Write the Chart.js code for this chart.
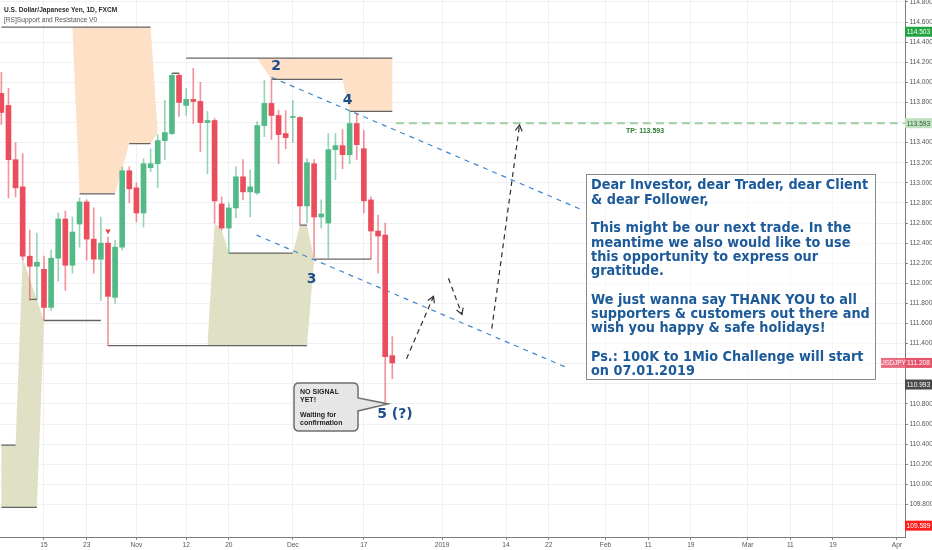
<!DOCTYPE html>
<html>
<head>
<meta charset="utf-8">
<script src="https://cdn.jsdelivr.net/npm/chart.js@4.4.1/dist/chart.umd.min.js"></script>
<style>
  html, body { margin: 0; padding: 0; background: #ffffff; }
  #wrap { width: 932px; height: 550px; position: relative; }
</style>
</head>
<body>
<div id="wrap"><canvas id="chart" width="932" height="550"></canvas></div>
<script>
// USD/JPY daily candles (FXCM). Bar index counts trading days, 0 = 15 Oct 2018.
const firstBar = -6;
const opens  = [113.89,113.77,113.23,112.96,112.27,112.17,112.14,111.76,112.25,112.64,112.18,112.59,112.81,112.44,112.24,112.40,111.86,112.36,113.12,112.95,112.70,113.15,113.19,113.42,113.49,114.07,113.77,113.83,113.81,113.60,113.62,112.79,112.55,112.75,113.06,112.91,112.90,113.57,113.79,113.67,113.49,113.65,113.65,112.77,113.19,112.66,112.60,113.33,113.37,113.28,113.59,113.34,112.83,112.52,112.48,111.28];
const highs  = [114.10,113.94,113.40,113.29,112.53,112.50,112.27,112.33,112.70,112.72,112.66,112.85,112.83,112.75,112.66,112.46,112.43,113.16,113.16,113.00,113.24,113.34,113.48,113.82,114.09,114.09,113.94,114.14,114.00,113.71,113.64,112.86,112.80,113.16,113.23,113.13,113.61,114.02,114.03,113.72,113.72,113.82,113.66,113.24,113.23,112.83,113.49,113.49,113.53,113.71,113.69,113.52,112.86,112.68,112.60,111.47];
const lows   = [113.58,112.85,112.86,112.23,111.83,111.83,111.63,111.73,112.02,111.93,112.10,112.36,112.23,112.10,111.83,111.38,111.80,112.33,112.80,112.61,112.56,113.11,112.95,113.23,113.48,113.66,113.67,113.59,113.31,113.09,112.60,112.53,112.30,112.65,112.83,112.66,112.88,113.46,113.43,113.19,113.34,113.40,112.58,112.60,112.26,112.55,112.25,113.03,113.14,113.19,113.23,112.70,112.24,112.10,110.82,111.05];
const closes = [113.70,113.23,112.95,112.27,112.17,112.21,111.76,112.25,112.64,112.18,112.51,112.81,112.44,112.24,112.40,111.87,112.36,113.12,112.94,112.70,113.19,113.19,113.42,113.50,114.07,113.80,113.83,113.81,113.60,113.62,112.82,112.55,112.75,113.06,112.91,112.96,113.57,113.79,113.67,113.48,113.45,113.66,112.77,113.20,112.66,112.69,113.33,113.37,113.28,113.59,113.38,112.82,112.52,112.47,111.27,111.208];

// Time axis: bar index of each labelled date and its text
const timeTickBars   = [0, 6, 13, 20, 26, 35, 45, 56, 65, 71, 79, 85, 91, 99, 105, 111, 120];
const timeTickLabels = ['15','23','Nov','12','20','Dec','17','2019','14','22','Feb','11','19','Mar','11','19','Apr'];

// Price axis ticks
const priceTicks = [109.8,110.0,110.2,110.4,110.6,110.8,111.0,111.2,111.4,111.6,111.8,112.0,112.2,112.4,112.6,112.8,113.0,113.2,113.4,113.6,113.8,114.0,114.2,114.4,114.6,114.8];

// [RS] Support and Resistance: level segments as [fromBar, toBar, price]
const resistanceLevels = [[-6,15,114.55],[5,10,112.89],[12,15,113.39],[18,19,114.09],[20,49,114.24],[32,42,114.03],[43,49,113.71]];
const supportLevels    = [[-6,-1,109.77],[-6,-4,110.39],[-2,-1,111.84],[0,8,111.63],[9,37,111.38],[26,35,112.30],[36,37,112.58],[38,46,112.24]];

// Shaded zones of the indicator: upper edge and lower edge as [bar, price]
const resistZoneA_top  = [[4,114.55],[15,114.55],[16,113.50]];
const resistZoneA_base = [[4,114.55],[5,112.89],[10,112.89],[12,113.39],[15,113.39],[16,113.50]];
const resistZoneB_top  = [[30,114.24],[49,114.24]];
const resistZoneB_base = [[30,114.24],[32,114.03],[42,114.03],[43,113.71],[49,113.71]];
const supportZoneA_top  = [[-6,110.39],[-4,110.39],[-3,112.25],[0,111.63]];
const supportZoneA_base = [[-6,109.77],[-1,109.77],[0,111.63]];
const supportZoneB_top  = [[23,111.38],[24,112.60],[25,112.53],[26,112.30],[35,112.30],[36,112.58],[37,112.58],[38,112.24]];
const supportZoneB_base = [[23,111.38],[37,111.38]];

// Drawn trend channel (blue dashed) and projected path (black dashed arrows)
const trendUpper = [[32.0,114.05],[75.4,112.74]];
const trendLower = [[29.9,112.48],[73.6,111.16]];
const projLeg1 = [[51.0,111.25],[54.8,111.87]];
const projLeg2 = [[56.9,112.05],[58.8,111.69]];
const projLeg3 = [[63.0,111.55],[66.9,113.575]];

// Take-profit level
const tpLevel = 113.593;
const tpFromBar = 49.5;

// Signal marker above bar 9
const signalMarker = [9, 112.52];

// Wave count labels: [text, bar, baseline price]
const waveLabels = [['2',32.64,114.122],['4',42.7,113.784],['3',37.66,112.008],['5 (?)',49.38,110.66]];

// Callout pointing at the latest low
const calloutTip = [48.4, 110.80];
const calloutLines = ['NO SIGNAL','YET!','','Waiting for','confirmation'];

const noteLines = [
  'Dear Investor, dear Trader, dear Client',
  '& dear Follower,',
  '',
  'This might be our next trade. In the',
  'meantime we also would like to use',
  'this opportunity to express our',
  'gratitude.',
  '',
  'We just wanna say THANK YOU to all',
  'supporters & customers out there and',
  'wish you happy & safe holidays!',
  '',
  'Ps.: 100K to 1Mio Challenge will start',
  'on 07.01.2019'
];

// Price-scale tags: [price, background, text colour]
const axisTags = [[114.503,'#23a443','#ffffff'],[113.593,'#bfe0bf','#2f5e2f'],[111.208,'#e5536b','#ffffff'],[110.993,'#4a4a4a','#ffffff'],[109.589,'#ff1f1f','#ffffff']];
const symbolTag = ['USDJPY', 111.208];

// ---------- build library tables ----------
const UP = '#53b987', DOWN = '#eb4d5c';
const bodies = [], wicks = [], bodyColors = [], wickColors = [];
opens.forEach((o, k) => {
  const bar = firstBar + k, c = closes[k];
  bodies.push({x: bar, y: [o, c]});
  wicks.push({x: bar, y: [lows[k], highs[k]]});
  const up = c >= o;
  bodyColors.push(up ? UP : DOWN);
  wickColors.push(up ? 'rgba(83,185,135,0.6)' : 'rgba(235,77,92,0.6)');
});

function levelPoints(levels) {
  const pts = [];
  levels.forEach(([a, b, p]) => {
    pts.push({x: a, y: p}, {x: b, y: p}, {x: b, y: null});
  });
  return pts;
}
function zonePolygon(top, base) {
  return top.map(([x, y]) => ({x, y})).concat(base.slice().reverse().map(([x, y]) => ({x, y})));
}
function pairPoints(arr) { return arr.map(([x, y]) => ({x, y})); }

function zone(top, base, color) {
  return {type: 'line', data: zonePolygon(top, base), fill: 'shape', backgroundColor: color,
          borderWidth: 0, pointRadius: 0, order: 20, tension: 0};
}
function dashed(arr, color, width, dash) {
  return {type: 'line', data: pairPoints(arr), borderColor: color, borderWidth: width,
          borderDash: dash, pointRadius: 0, fill: false, order: 4, tension: 0};
}

const ORANGE = '#fde0c6', KHAKI = '#dfe0c4';

const datasets = [
  {type: 'bar', data: bodies, backgroundColor: bodyColors, barThickness: 5, grouped: false, minBarLength: 1, order: 0},
  {type: 'bar', data: wicks, backgroundColor: wickColors, barThickness: 1, grouped: false, order: 1},
  {type: 'line', data: [{x: signalMarker[0], y: signalMarker[1]}], showLine: false, pointStyle: 'triangle',
   rotation: 180, pointRadius: 3.2, pointBackgroundColor: '#e5483f', pointBorderWidth: 0, order: 0},
  {type: 'line', data: levelPoints(resistanceLevels), borderColor: 'rgba(85,85,85,0.9)', borderWidth: 1.3,
   pointRadius: 0, spanGaps: false, fill: false, order: 3, tension: 0},
  {type: 'line', data: levelPoints(supportLevels), borderColor: 'rgba(85,85,85,0.9)', borderWidth: 1.3,
   pointRadius: 0, spanGaps: false, fill: false, order: 3, tension: 0},
  dashed(trendUpper, '#3f86cf', 1.2, [5, 5]),
  dashed(trendLower, '#3f86cf', 1.2, [5, 5]),
  dashed(projLeg1, '#2e2e2e', 1.2, [5, 4]),
  dashed(projLeg2, '#2e2e2e', 1.2, [5, 4]),
  dashed(projLeg3, '#2e2e2e', 1.2, [5, 4]),
  {type: 'line', data: [{x: tpFromBar, y: tpLevel}, {x: 125, y: tpLevel}], borderColor: '#9fd09f',
   borderWidth: 2, borderDash: [8, 5], pointRadius: 0, fill: false, order: 4},
  zone(resistZoneA_top, resistZoneA_base, ORANGE),
  zone(resistZoneB_top, resistZoneB_base, ORANGE),
  zone(supportZoneA_top, supportZoneA_base, KHAKI),
  zone(supportZoneB_top, supportZoneB_base, KHAKI)
];

// ---------- annotations drawn through the scales ----------
const annotations = {
  id: 'annotations',
  afterDatasetsDraw(chart) {
    const {ctx, scales: {x, y}} = chart;
    const px = v => x.getPixelForValue(v), py = v => y.getPixelForValue(v);
    // arrow heads on the projected path
    ctx.save();
    ctx.strokeStyle = '#2e2e2e'; ctx.lineWidth = 1.2;
    [projLeg1, projLeg2, projLeg3].forEach(leg => {
      const [a, b] = leg;
      const x0 = px(a[0]), y0 = py(a[1]), x1 = px(b[0]), y1 = py(b[1]);
      const len = Math.hypot(x1 - x0, y1 - y0), ux = (x1 - x0) / len, uy = (y1 - y0) / len;
      const nx = -uy, ny = ux;
      ctx.beginPath();
      ctx.moveTo(x1 - 6 * ux + 3.5 * nx, y1 - 6 * uy + 3.5 * ny);
      ctx.lineTo(x1, y1);
      ctx.lineTo(x1 - 6 * ux - 3.5 * nx, y1 - 6 * uy - 3.5 * ny);
      ctx.stroke();
    });
    ctx.restore();
  },
  afterDraw(chart) {
    const {ctx, scales: {x, y}, chartArea} = chart;
    const px = v => x.getPixelForValue(v), py = v => y.getPixelForValue(v);
    ctx.save();

    // legend header
    ctx.textBaseline = 'alphabetic'; ctx.textAlign = 'left';
    ctx.fillStyle = '#2a2a2a';
    ctx.font = 'bold 6.6px "Liberation Sans", Arial, sans-serif';
    ctx.fillText('U.S. Dollar/Japanese Yen, 1D, FXCM', 4, 12);
    ctx.fillStyle = '#555555';
    ctx.font = '6.6px "Liberation Sans", Arial, sans-serif';
    ctx.fillText('[RS]Support and Resistance V0', 4, 22);

    // wave count labels
    ctx.fillStyle = '#1d4f8c';
    ctx.font = 'bold 14px "DejaVu Sans", sans-serif';
    ctx.textAlign = 'center';
    waveLabels.forEach(([t, b, p]) => ctx.fillText(t, px(b), py(p)));

    // take-profit caption
    ctx.fillStyle = '#2d7d32';
    ctx.font = 'bold 7px "Liberation Sans", Arial, sans-serif';
    ctx.fillText('TP: ' + tpLevel.toFixed(3), px(84.55), py(tpLevel) + 10);

    // callout
    const tx = px(calloutTip[0]), ty = py(calloutTip[1]);
    const L = tx - 94, R = tx - 30, T = ty - 21, B = ty + 27, r = 5;
    ctx.beginPath();
    ctx.moveTo(L + r, T);
    ctx.lineTo(R - r, T); ctx.quadraticCurveTo(R, T, R, T + r);
    ctx.lineTo(R, ty - 6); ctx.lineTo(tx, ty); ctx.lineTo(R, ty + 7);
    ctx.lineTo(R, B - r); ctx.quadraticCurveTo(R, B, R - r, B);
    ctx.lineTo(L + r, B); ctx.quadraticCurveTo(L, B, L, B - r);
    ctx.lineTo(L, T + r); ctx.quadraticCurveTo(L, T, L + r, T);
    ctx.closePath();
    ctx.fillStyle = '#e6e6e6'; ctx.fill();
    ctx.strokeStyle = '#6f6f6f'; ctx.lineWidth = 1.5; ctx.stroke();
    ctx.fillStyle = '#1e1e1e'; ctx.textAlign = 'left';
    ctx.font = 'bold 7px "Liberation Sans", Arial, sans-serif';
    calloutLines.forEach((t, i) => ctx.fillText(t, L + 6, T + 11.5 + i * 7.6));

    // note box
    const bx = 586, by = 174, bw = 289, bh = 205;
    ctx.fillStyle = 'rgba(255,255,255,0.55)';
    ctx.fillRect(bx, by, bw, bh);
    ctx.strokeStyle = '#8a8a8a'; ctx.lineWidth = 1;
    ctx.strokeRect(bx + 0.5, by + 0.5, bw, bh);
    ctx.fillStyle = '#1c5a99';
    ctx.font = 'bold 14.3px "DejaVu Sans Condensed", "DejaVu Sans", sans-serif';
    noteLines.forEach((t, i) => ctx.fillText(t, 591, 189.3 + i * 14.3));

    // price-scale tags
    ctx.font = '6.6px "Liberation Sans", Arial, sans-serif';
    ctx.textAlign = 'center'; ctx.textBaseline = 'middle';
    const ax = chartArea.right;
    axisTags.forEach(([p, bg, fg]) => {
      const yy = py(p);
      ctx.fillStyle = bg; ctx.fillRect(ax, yy - 5, 932 - ax, 10);
      ctx.fillStyle = fg; ctx.fillText(p.toFixed(3), ax + (932 - ax) / 2, yy + 0.5);
    });
    const sy = py(symbolTag[1]);
    ctx.fillStyle = 'rgba(229,83,107,0.85)'; ctx.fillRect(ax - 24, sy - 5, 24, 10);
    ctx.fillStyle = '#ffffff'; ctx.fillText(symbolTag[0], ax - 12, sy + 0.5);
    ctx.restore();
  }
};

const xMin = -6.19, xMax = 121.13;
const yMin = 109.476, yMax = 114.819;
const tickFont = {family: '"Liberation Sans", Arial, sans-serif', size: 6.6};

new Chart(document.getElementById('chart'), {
  type: 'line',
  data: {datasets},
  plugins: [annotations],
  options: {
    responsive: false,
    animation: false,
    devicePixelRatio: 1,
    layout: {padding: 0, autoPadding: false},
    plugins: {legend: {display: false}, tooltip: {enabled: false}},
    scales: {
      x: {
        type: 'linear', min: xMin, max: xMax, offset: false,
        grid: {color: '#eef0f4', offset: false, tickLength: 3, tickColor: '#8a8a8a'},
        border: {color: '#7c7c7c', width: 1},
        ticks: {autoSkip: false, maxRotation: 0, padding: 1, color: '#555555', font: tickFont,
                callback: (v, i) => timeTickLabels[i]},
        afterBuildTicks: s => { s.ticks = timeTickBars.map(v => ({value: v})); },
        afterFit: s => { s.height = 13; s.paddingLeft = 0; s.paddingRight = 0; }
      },
      y: {
        type: 'linear', position: 'right', min: yMin, max: yMax,
        grid: {color: '#eef0f4', tickLength: 3, tickColor: '#8a8a8a'},
        border: {color: '#7c7c7c', width: 1},
        ticks: {padding: 1.5, color: '#555555', font: tickFont, callback: v => Number(v).toFixed(3)},
        afterBuildTicks: s => { s.ticks = priceTicks.map(v => ({value: v})); },
        afterFit: s => { s.width = 27; s.paddingTop = 0; s.paddingBottom = 0; }
      }
    }
  }
});
</script>
</body>
</html>
